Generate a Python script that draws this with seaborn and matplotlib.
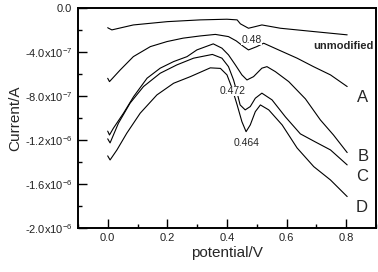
import numpy as np
import pandas as pd
import matplotlib
matplotlib.use("Agg")
import matplotlib.pyplot as plt
import seaborn as sns
from matplotlib.ticker import FixedLocator, FixedFormatter, MultipleLocator

# ---- data (current in units of 1e-7 A) ----
v_unmod = [0.000, 0.003, 0.014, 0.086, 0.200, 0.310, 0.400, 0.434, 0.445, 0.472, 0.495, 0.517, 0.579, 0.690, 0.803]
i_unmod = [-1.80, -1.85, -2.00, -1.55, -1.25, -1.09, -1.03, -1.09, -1.45, -1.85, -1.70, -1.55, -1.85, -2.15, -2.45]

v_a = [0.000, 0.006, 0.042, 0.086, 0.143, 0.199, 0.253, 0.310, 0.361, 0.405, 0.431, 0.456, 0.472, 0.500, 0.523, 0.573, 0.635, 0.690, 0.747, 0.803]
i_a = [-6.40, -6.70, -5.64, -4.43, -3.52, -3.06, -2.75, -2.55, -2.41, -2.61, -3.00, -3.52, -3.82, -3.52, -3.21, -3.82, -4.57, -5.34, -6.09, -7.15]

v_b = [0.000, 0.006, 0.019, 0.053, 0.087, 0.132, 0.176, 0.221, 0.266, 0.299, 0.354, 0.383, 0.405, 0.428, 0.450, 0.467, 0.489, 0.517, 0.534, 0.562, 0.607, 0.663, 0.713, 0.757, 0.803]
i_b = [-11.2, -11.55, -10.94, -9.57, -8.06, -6.39, -5.48, -4.88, -4.43, -3.82, -3.27, -3.66, -4.27, -5.18, -6.09, -6.55, -6.25, -5.48, -5.34, -5.79, -6.70, -8.27, -10.18, -11.55, -13.15]

v_c = [0.000, 0.008, 0.036, 0.075, 0.120, 0.176, 0.232, 0.288, 0.351, 0.383, 0.405, 0.422, 0.433, 0.444, 0.461, 0.478, 0.495, 0.517, 0.551, 0.596, 0.646, 0.696, 0.747, 0.803]
i_c = [-11.9, -12.27, -10.48, -8.66, -7.15, -5.94, -5.18, -4.57, -4.23, -4.57, -5.34, -6.55, -7.61, -8.82, -9.27, -8.97, -8.21, -7.75, -8.36, -9.91, -11.45, -12.18, -12.91, -14.27]

v_d = [0.000, 0.008, 0.031, 0.064, 0.109, 0.165, 0.221, 0.277, 0.344, 0.378, 0.400, 0.417, 0.434, 0.450, 0.464, 0.478, 0.495, 0.512, 0.540, 0.585, 0.635, 0.691, 0.747, 0.803]
i_d = [-13.45, -13.82, -12.91, -11.39, -9.57, -7.91, -6.85, -6.25, -5.45, -5.50, -6.09, -7.30, -8.82, -10.34, -11.25, -10.64, -9.43, -8.82, -9.27, -10.64, -12.73, -14.43, -15.64, -17.15]

series_names = ["unmodified", "A", "B", "C", "D"]
y_ticks = [0.0, -4e-7, -8e-7, -1.2e-6, -1.6e-6, -2.0e-6]
y_tick_labels = ["0.0", r"-4.0x10$^{-7}$", r"-8.0x10$^{-7}$", r"-1.2x10$^{-6}$", r"-1.6x10$^{-6}$", r"-2.0x10$^{-6}$"]
x_ticks = [0.0, 0.2, 0.4, 0.6, 0.8]
x_tick_labels = ["0.0", "0.2", "0.4", "0.6", "0.8"]

peak_labels = ["0.48", "0.472", "0.464"]
peak_pos = [(0.482, -2.91), (0.418, -7.55), (0.465, -12.3)]
end_pos = {"unmodified": (0.79, -3.45), "A": (0.855, -8.1), "B": (0.855, -13.55), "C": (0.852, -15.36), "D": (0.852, -18.1)}

frames = []
for name, v, i in zip(series_names, [v_unmod, v_a, v_b, v_c, v_d], [i_unmod, i_a, i_b, i_c, i_d]):
    frames.append(pd.DataFrame({"V": v, "I": np.array(i) * 1e-7, "curve": name}))
df = pd.concat(frames, ignore_index=True)

sns.set_theme(style="white")
plt.rcParams["font.family"] = ["Liberation Sans", "DejaVu Sans"]
plt.rcParams["mathtext.fontset"] = "custom"
plt.rcParams["mathtext.rm"] = "Liberation Sans"
plt.rcParams["mathtext.it"] = "Liberation Sans"
plt.rcParams["mathtext.default"] = "regular"

fig = plt.figure(figsize=(3.78, 2.72), dpi=100)
ax = fig.add_axes([0.206, 0.162, 0.789, 0.809])

sns.lineplot(data=df, x="V", y="I", hue="curve", units="curve", estimator=None, sort=False,
             palette=["black"] * 5, legend=False, linewidth=0.8, ax=ax)

ax.set_xlim(-0.1, 0.9)
ax.set_ylim(-2.0e-6, 0.0)

ax.yaxis.set_major_locator(FixedLocator(y_ticks))
ax.yaxis.set_major_formatter(FixedFormatter(y_tick_labels))
ax.yaxis.set_minor_locator(MultipleLocator(2e-7))
ax.xaxis.set_major_locator(FixedLocator(x_ticks))
ax.xaxis.set_major_formatter(FixedFormatter(x_tick_labels))
ax.xaxis.set_minor_locator(MultipleLocator(0.1))

ax.tick_params(which="both", direction="in", color="black", labelsize=8, labelcolor="#222222")
ax.tick_params(which="major", length=6.5, width=1.0, pad=4)
ax.tick_params(which="minor", length=3.2, width=1.0)
ax.tick_params(axis="y", which="both", left=True, right=False)
ax.tick_params(axis="x", which="both", bottom=True, top=False)

for s in ax.spines.values():
    s.set_color("black")
    s.set_linewidth(1.4)

ax.set_xlabel("potential/V", fontsize=11, labelpad=2)
ax.set_ylabel("Current/A", fontsize=11, labelpad=2)

for lab, (x, y) in zip(peak_labels, peak_pos):
    ax.text(x, y * 1e-7, lab, fontsize=7.5, ha="center", va="center",
            bbox=dict(facecolor="white", edgecolor="none", pad=0.3))

for name, (x, y) in end_pos.items():
    if name == "unmodified":
        ax.text(x, y * 1e-7, name, fontsize=8, fontweight="bold", ha="center", va="center")
    else:
        ax.text(x, y * 1e-7, name, fontsize=12, ha="center", va="center")

fig.savefig("out.png", dpi=100)
